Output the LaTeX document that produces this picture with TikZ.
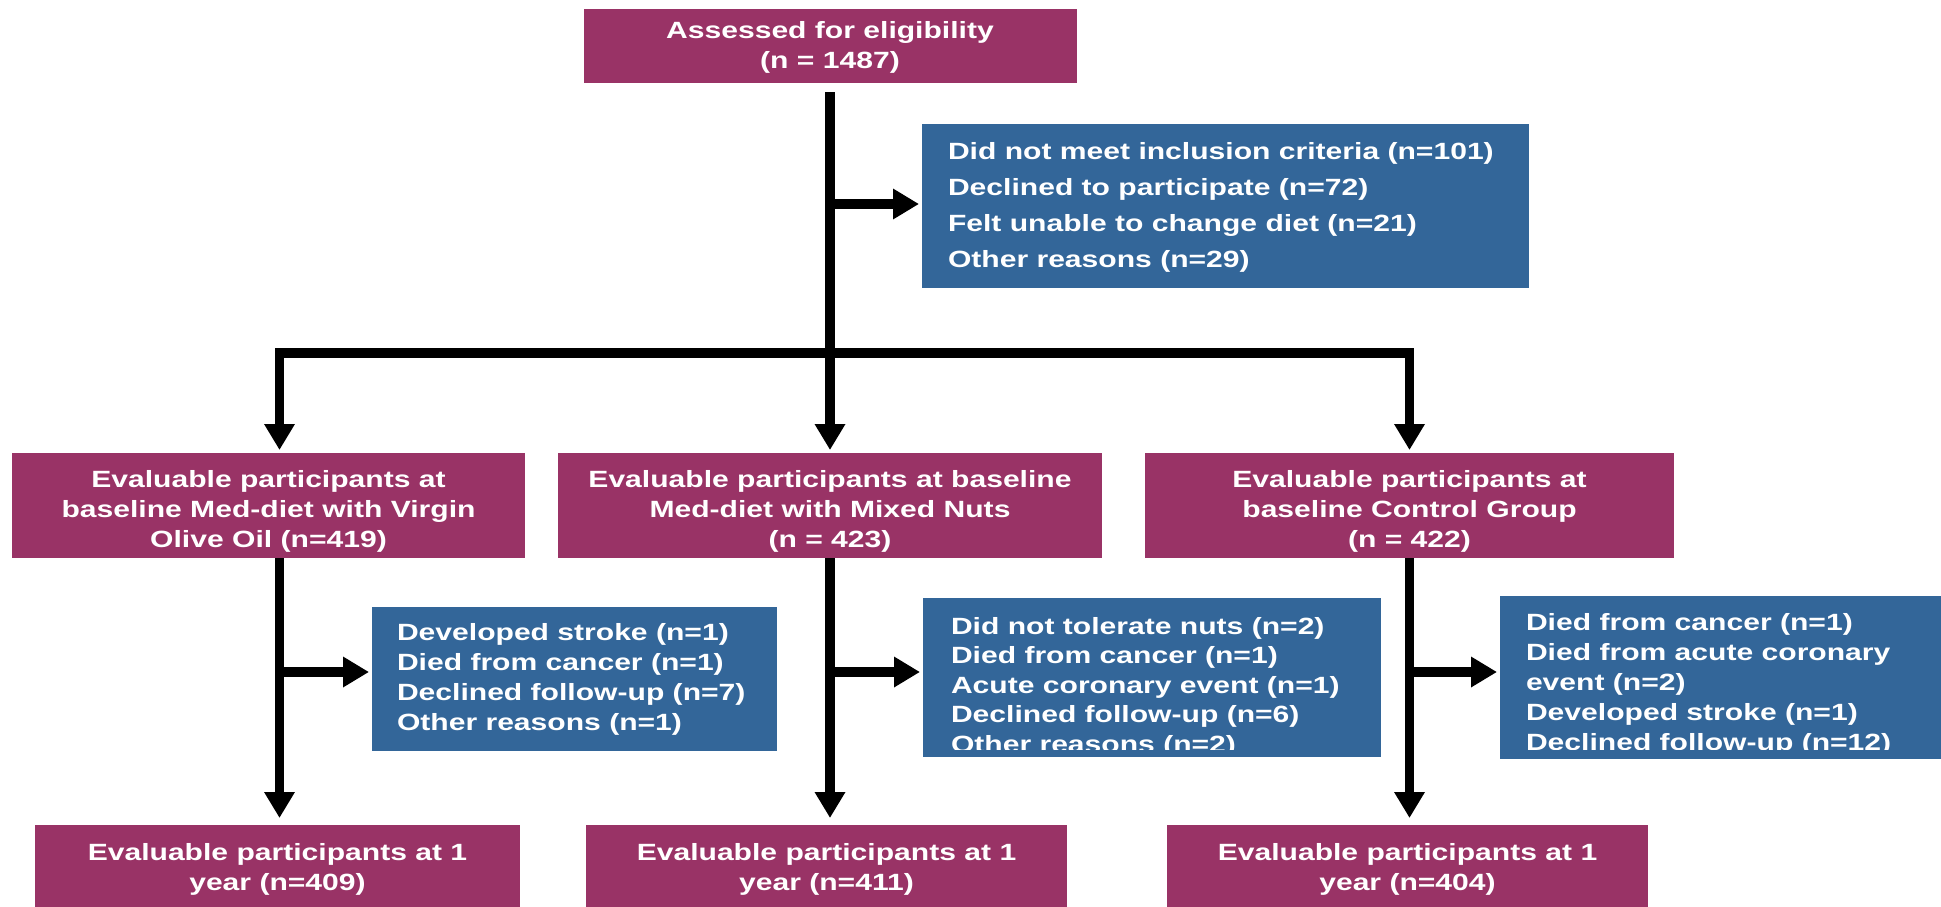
\documentclass[tikz,border=0pt]{standalone}
\usepackage{fontspec}
\setmainfont{Liberation Sans}
\usepackage{graphicx}
\usetikzlibrary{arrows.meta}

\definecolor{plum}{HTML}{993366}
\definecolor{steel}{HTML}{336699}

% #1 vertical lowering, #2 line spacing, #3 column alignment, #4 lines
\newcommand\btext[4]{%
  \raisebox{#1}[\height][\depth]{\scalebox{1.28}[1]{\fontsize{23.5}{#2}\selectfont\bfseries
    \begin{tabular}{@{}#3@{}}#4\end{tabular}}}}
% left-aligned text inside a box of width #1 with left padding #2
\newcommand\lbox[3]{\makebox[#1][l]{\hspace*{#2}#3}}

\tikzset{
  plumbox/.style={fill=plum, text=white, inner sep=0pt, outer sep=0pt},
  steelbox/.style={fill=steel, text=white, inner sep=0pt, outer sep=0pt},
  link/.style={line width=9.5pt, draw=black},
  arr/.style={link, -{Triangle[width=29pt,length=26pt]}, shorten >=3pt},
}

\begin{document}
\begin{tikzpicture}[x=1pt, y=-1pt]
\useasboundingbox (0,0) rectangle (1941,907);
\clip (0,0) rectangle (1941,907);

% enrolment
\node[plumbox, minimum width=493pt, minimum height=74pt] (top) at (830,46)
  {\btext{-2pt}{30pt}{c}{Assessed for eligibility\\(n = 1487)}};

\node[steelbox, minimum width=607pt, minimum height=164pt] (ex) at (1225.5,206)
  {\lbox{607pt}{26pt}{\btext{0pt}{36pt}{l}{Did not meet inclusion criteria (n=101)\\
   Declined to participate (n=72)\\Felt unable to change diet (n=21)\\Other reasons (n=29)}}};

% randomised groups at baseline
\node[plumbox, minimum width=513pt, minimum height=105pt] (b1) at (268.5,505.5)
  {\btext{-5.5pt}{30pt}{c}{Evaluable participants at\\baseline Med-diet with Virgin\\Olive Oil (n=419)}};
\node[plumbox, minimum width=544pt, minimum height=105pt] (b2) at (830,505.5)
  {\btext{-5.5pt}{30pt}{c}{Evaluable participants at baseline\\Med-diet with Mixed Nuts\\(n = 423)}};
\node[plumbox, minimum width=529pt, minimum height=105pt] (b3) at (1409.5,505.5)
  {\btext{-5.5pt}{30pt}{c}{Evaluable participants at\\baseline Control Group\\(n = 422)}};

% losses to follow-up
\node[steelbox, minimum width=405pt, minimum height=144pt] (s1) at (574.5,679)
  {\lbox{405pt}{25pt}{\btext{0pt}{30pt}{l}{Developed stroke (n=1)\\Died from cancer (n=1)\\
   Declined follow-up (n=7)\\Other reasons (n=1)}}};

% the last lines of these two boxes run past the text area and are cut off
\begin{scope}
\clip (0,0) rectangle (1941,749.5);
\node[steelbox, minimum width=458pt, minimum height=159pt] (s2) at (1152,677.5)
  {\lbox{458pt}{28pt}{\btext{-10pt}{29.4pt}{l}{Did not tolerate nuts (n=2)\\Died from cancer (n=1)\\
   Acute coronary event (n=1)\\Declined follow-up (n=6)\\Other reasons (n=2)}}};
\node[steelbox, minimum width=450pt, minimum height=163pt] (s3) at (1725,677.5)
  {\lbox{450pt}{26pt}{\btext{-7pt}{30pt}{l}{Died from cancer (n=1)\\Died from acute coronary\\
   event (n=2)\\Developed stroke (n=1)\\Declined follow-up (n=12)}}};
\end{scope}
\fill[steel] ([yshift=7.5pt]s2.south west) rectangle (s2.south east);
\fill[steel] ([yshift=9.5pt]s3.south west) rectangle (s3.south east);

% one-year follow-up
\node[plumbox, minimum width=485pt, minimum height=88pt] (f1) at (277.5,869)
  {\btext{0pt}{30pt}{c}{Evaluable participants at 1\\year (n=409)}};
\node[plumbox, minimum width=481pt, minimum height=88pt] (f2) at (826.5,869)
  {\btext{0pt}{30pt}{c}{Evaluable participants at 1\\year (n=411)}};
\node[plumbox, minimum width=481pt, minimum height=88pt] (f3) at (1407.5,869)
  {\btext{0pt}{30pt}{c}{Evaluable participants at 1\\year (n=404)}};

% connectors
\coordinate (split) at (830,353);
\coordinate (exit) at (830,204);
\draw[link, shorten <=9pt] (top.south) -- (split);
\draw[arr] (exit) -- (exit -| ex.west);
\draw[arr] (split) -| ([xshift=11pt]b1.north);
\draw[arr] (split) -- (b2.north);
\draw[arr] (split) -| (b3.north);

\draw[arr, shorten >=7pt] ([xshift=11pt]b1.south) -- ([xshift=11pt]b1.south |- f1.north);
\draw[arr, shorten >=7pt] (b2.south) -- (b2.south |- f2.north);
\draw[arr, shorten >=7pt] (b3.south) -- (b3.south |- f3.north);

\coordinate (k1) at (279.5,672);
\coordinate (k2) at (830,672);
\coordinate (k3) at (1409.5,672);
\draw[arr] (k1) -- (k1 -| s1.west);
\draw[arr] (k2) -- (k2 -| s2.west);
\draw[arr] (k3) -- (k3 -| s3.west);
\end{tikzpicture}
\end{document}
